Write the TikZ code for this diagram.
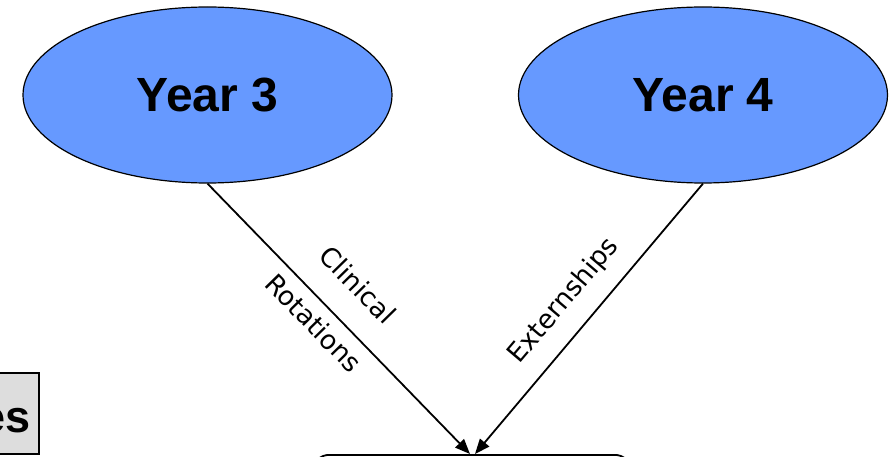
\documentclass[tikz,border=0pt]{standalone}
\usepackage{fontspec}
\setmainfont{Liberation Sans}
\newfontfamily\labelfont{DejaVu Sans}
\usetikzlibrary{shapes.geometric,arrows.meta}
\definecolor{yearblue}{RGB}{102,153,255}
\definecolor{boxgray}{RGB}{221,221,221}
\tikzset{
  yearnode/.style={ellipse, draw=black, line width=1.2pt, fill=yearblue,
    minimum width=369pt, minimum height=176pt, inner sep=0pt,
    font=\fontsize{48}{50}\selectfont\bfseries},
  linklabel/.style={font=\labelfont\fontsize{26.5}{28}\selectfont, inner sep=0pt},
  flow/.style={line width=1.8pt, -{Triangle[length=15pt,width=12pt]}},
}
\begin{document}
\begin{tikzpicture}[x=1pt,y=1pt]
  \useasboundingbox (0,0) rectangle (895,456);
  \clip (0,0) rectangle (895,456);

  % the two years
  \node[yearnode] (y3) at (207.5,361) {Year 3};
  \node[yearnode] (y4) at (703,361) {Year 4};

  % destination box, mostly below the frame
  \node[draw=black, line width=1.8pt, rounded corners=16pt, fill=white,
        minimum width=318pt, minimum height=120pt, anchor=north] (goal) at (472,2) {};

  % partial side box
  \node[draw=black, line width=1.8pt, fill=boxgray, minimum width=50pt,
        minimum height=81pt, anchor=south east] (side) at (40,1) {};
  \node[font=\fontsize{45}{48}\selectfont\bfseries, anchor=base east, inner sep=0pt]
        (sidetext) at (31,24) {es};

  % connectors
  \draw[flow] (y3.south) -- ([xshift=-2pt]goal.north);
  \draw[flow] (y4.south) -- ([xshift=3pt]goal.north);

  % connector labels
  \node[linklabel, rotate=-45.6] (clin) at (358,171) {Clinical};
  \node[linklabel, rotate=-45.6] (rot) at (314,133) {Rotations};
  \node[linklabel, rotate=49.7] (ext) at (564,155) {Externships};
\end{tikzpicture}
\end{document}
